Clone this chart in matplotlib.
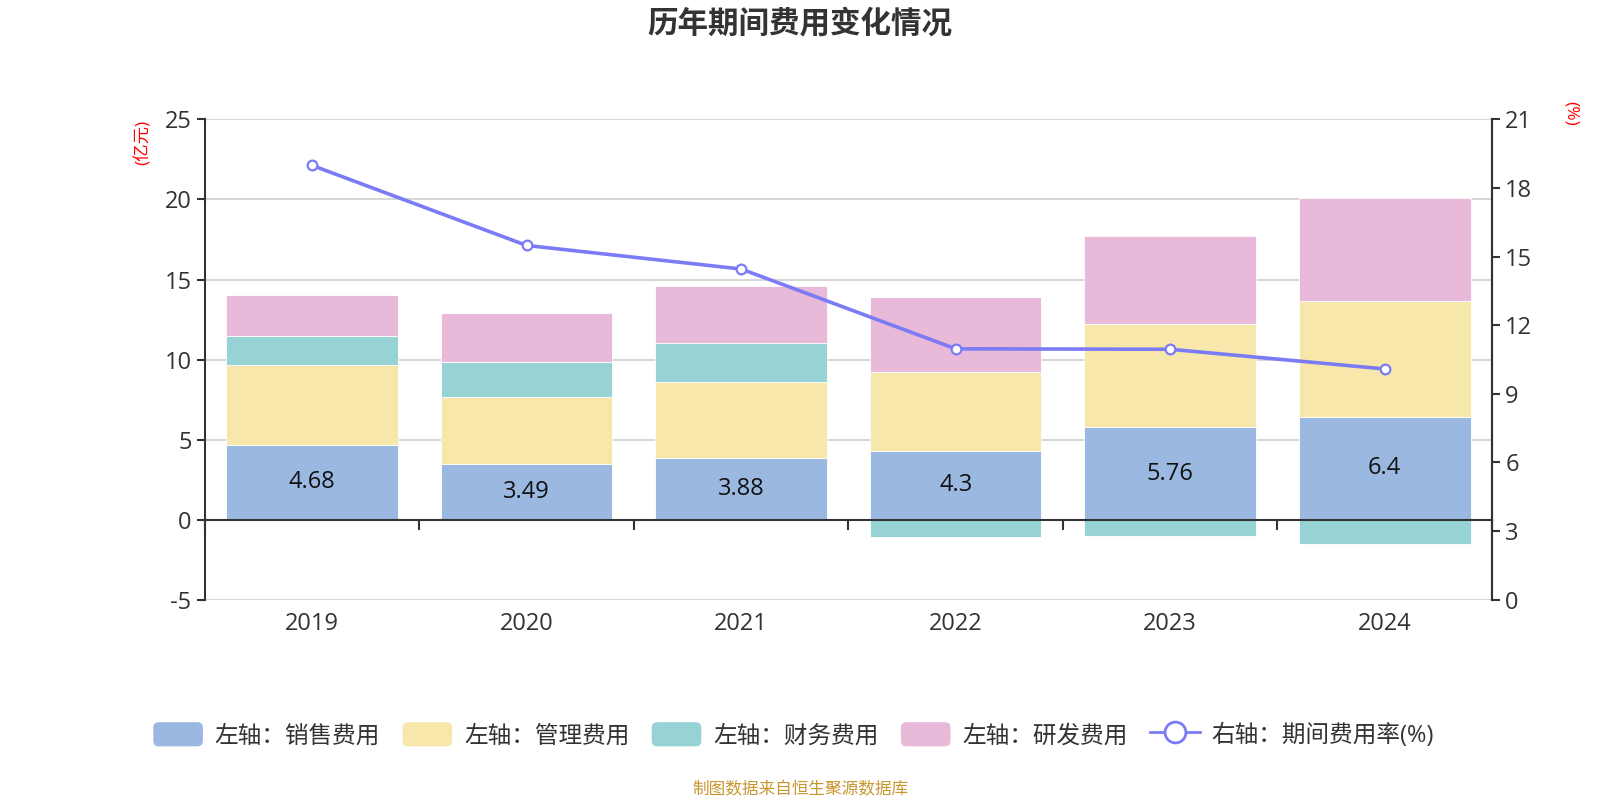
import numpy as np
import matplotlib
matplotlib.use("Agg")
import matplotlib.pyplot as plt
from matplotlib.patches import FancyBboxPatch
from matplotlib.lines import Line2D
from matplotlib.legend_handler import HandlerPatch
import matplotlib.transforms as mtransforms

plt.rcParams['font.family'] = ['Open Sans', 'Noto Sans CJK SC', 'DejaVu Sans']
plt.rcParams['axes.unicode_minus'] = False

# data (亿元 / %)
years = ['2019', '2020', '2021', '2022', '2023', '2024']
sales = [4.68, 3.49, 3.88, 4.30, 5.76, 6.40]
admin = [5.00, 4.14, 4.71, 4.90, 6.47, 7.26]
finance = [1.80, 2.24, 2.43, -1.09, -1.02, -1.55]
rnd = [2.55, 3.05, 3.60, 4.70, 5.47, 6.41]
rate = [18.99, 15.49, 14.46, 10.97, 10.95, 10.09]

c_sales = '#9bb8e1'
c_admin = '#f8e7aa'
c_fin = '#97d3d4'
c_rnd = '#e8b9d8'
c_line = '#7b7cf5'
txt = '#333333'

fig = plt.figure(figsize=(16, 8), dpi=100)
ax = fig.add_axes([0.128, 0.2504, 0.8045, 0.6003])

x = np.arange(len(years))
w = 0.8
sales = np.array(sales)
admin = np.array(admin)
finance = np.array(finance)
rnd = np.array(rnd)

# stacking: positives stack up, negatives go down from 0
pos_fin = np.where(finance > 0, finance, 0)
neg_fin = np.where(finance < 0, finance, 0)
edge = dict(edgecolor='white', linewidth=0.6)
ax.bar(x, sales, w, color=c_sales, zorder=2, **edge)
ax.bar(x, admin, w, bottom=sales, color=c_admin, zorder=2, **edge)
ax.bar(x, pos_fin, w, bottom=sales + admin, color=c_fin, zorder=2, **edge)
ax.bar(x, neg_fin, w, color=c_fin, zorder=2, **edge)
ax.bar(x, rnd, w, bottom=sales + admin + pos_fin, color=c_rnd, zorder=2, **edge)

for i, v in enumerate(sales):
    ax.text(x[i], v / 2, f'{v:g}', ha='center', va='center', fontsize=17, color='#111111', zorder=3)

ax.set_xlim(-0.5, len(years) - 0.5)
ax.set_ylim(-5, 25)
ax.set_yticks(range(-5, 26, 5))
ax.grid(axis='y', color='#cccccc', linewidth=1.1, zorder=0)
ax.set_axisbelow(True)
ax.tick_params(axis='y', labelsize=17, colors=txt, length=6, width=1.5)

# x axis line sits at zero
ax.spines['bottom'].set_position(('data', 0))
ax.spines['bottom'].set_color(txt)
ax.spines['bottom'].set_linewidth(1.5)
ax.spines['top'].set_visible(False)
ax.spines['left'].set_color(txt)
ax.spines['left'].set_linewidth(1.5)
ax.spines['right'].set_color(txt)
ax.spines['right'].set_linewidth(1.5)
ax.set_xticks(np.arange(-0.5, len(years), 1.0))
ax.set_xticklabels([])
ax.tick_params(axis='x', length=7, width=1.5, colors=txt, direction='out')

trans = mtransforms.blended_transform_factory(ax.transData, ax.transAxes)
for i, y in enumerate(years):
    ax.text(x[i], -0.05, y, transform=trans, ha='center', va='center', fontsize=17, color=txt)

ax2 = ax.twinx()
ax2.set_ylim(0, 21)
ax2.set_yticks(range(0, 22, 3))
ax2.tick_params(axis='y', labelsize=17, colors=txt, length=6, width=1.5)
for s in ['top', 'bottom', 'left']:
    ax2.spines[s].set_visible(False)
ax2.spines['right'].set_color(txt)
ax2.spines['right'].set_linewidth(1.5)
ax2.plot(x, rate, color=c_line, linewidth=2.6, marker='o', markersize=7,
         markerfacecolor='white', markeredgecolor=c_line, markeredgewidth=1.6, zorder=5)

fig.text(0.0894, 0.822, '(亿元)', rotation=90, color='red', fontsize=12.5, ha='center', va='center')
fig.text(0.982, 0.858, '(%)', rotation=-90, color='red', fontsize=12.5, ha='center', va='center')

fig.text(0.5, 0.969, '历年期间费用变化情况', ha='center', va='center', fontsize=22, fontweight='bold', color=txt)
fig.text(0.5, 0.0125, '制图数据来自恒生聚源数据库', ha='center', va='center', fontsize=12, color='#c8962e')


def rounded_box(legend, orig_handle, xdescent, ydescent, width, height, fontsize):
    return FancyBboxPatch((-xdescent, -ydescent), width, height,
                          boxstyle='round,pad=0,rounding_size=4',
                          facecolor=orig_handle.get_facecolor(), edgecolor='none')


handles = [
    FancyBboxPatch((0, 0), 1, 1, facecolor=c_sales, edgecolor='none'),
    FancyBboxPatch((0, 0), 1, 1, facecolor=c_admin, edgecolor='none'),
    FancyBboxPatch((0, 0), 1, 1, facecolor=c_fin, edgecolor='none'),
    FancyBboxPatch((0, 0), 1, 1, facecolor=c_rnd, edgecolor='none'),
    Line2D([], [], color=c_line, linewidth=2, marker='o', markersize=15,
           markerfacecolor='white', markeredgecolor=c_line, markeredgewidth=2),
]
labels = ['左轴：销售费用', '左轴：管理费用', '左轴：财务费用', '左轴：研发费用', '右轴：期间费用率(%)']
hm = {FancyBboxPatch: HandlerPatch(patch_func=rounded_box)}
leg = fig.legend(handles, labels, loc='center', bbox_to_anchor=(0.496, 0.081), ncol=5,
                 frameon=False, fontsize=17, handlelength=2.1, handleheight=1.2,
                 handletextpad=0.5, columnspacing=0.95, handler_map=hm)
for t in leg.get_texts():
    t.set_color(txt)

fig.savefig('out.png', dpi=100)
